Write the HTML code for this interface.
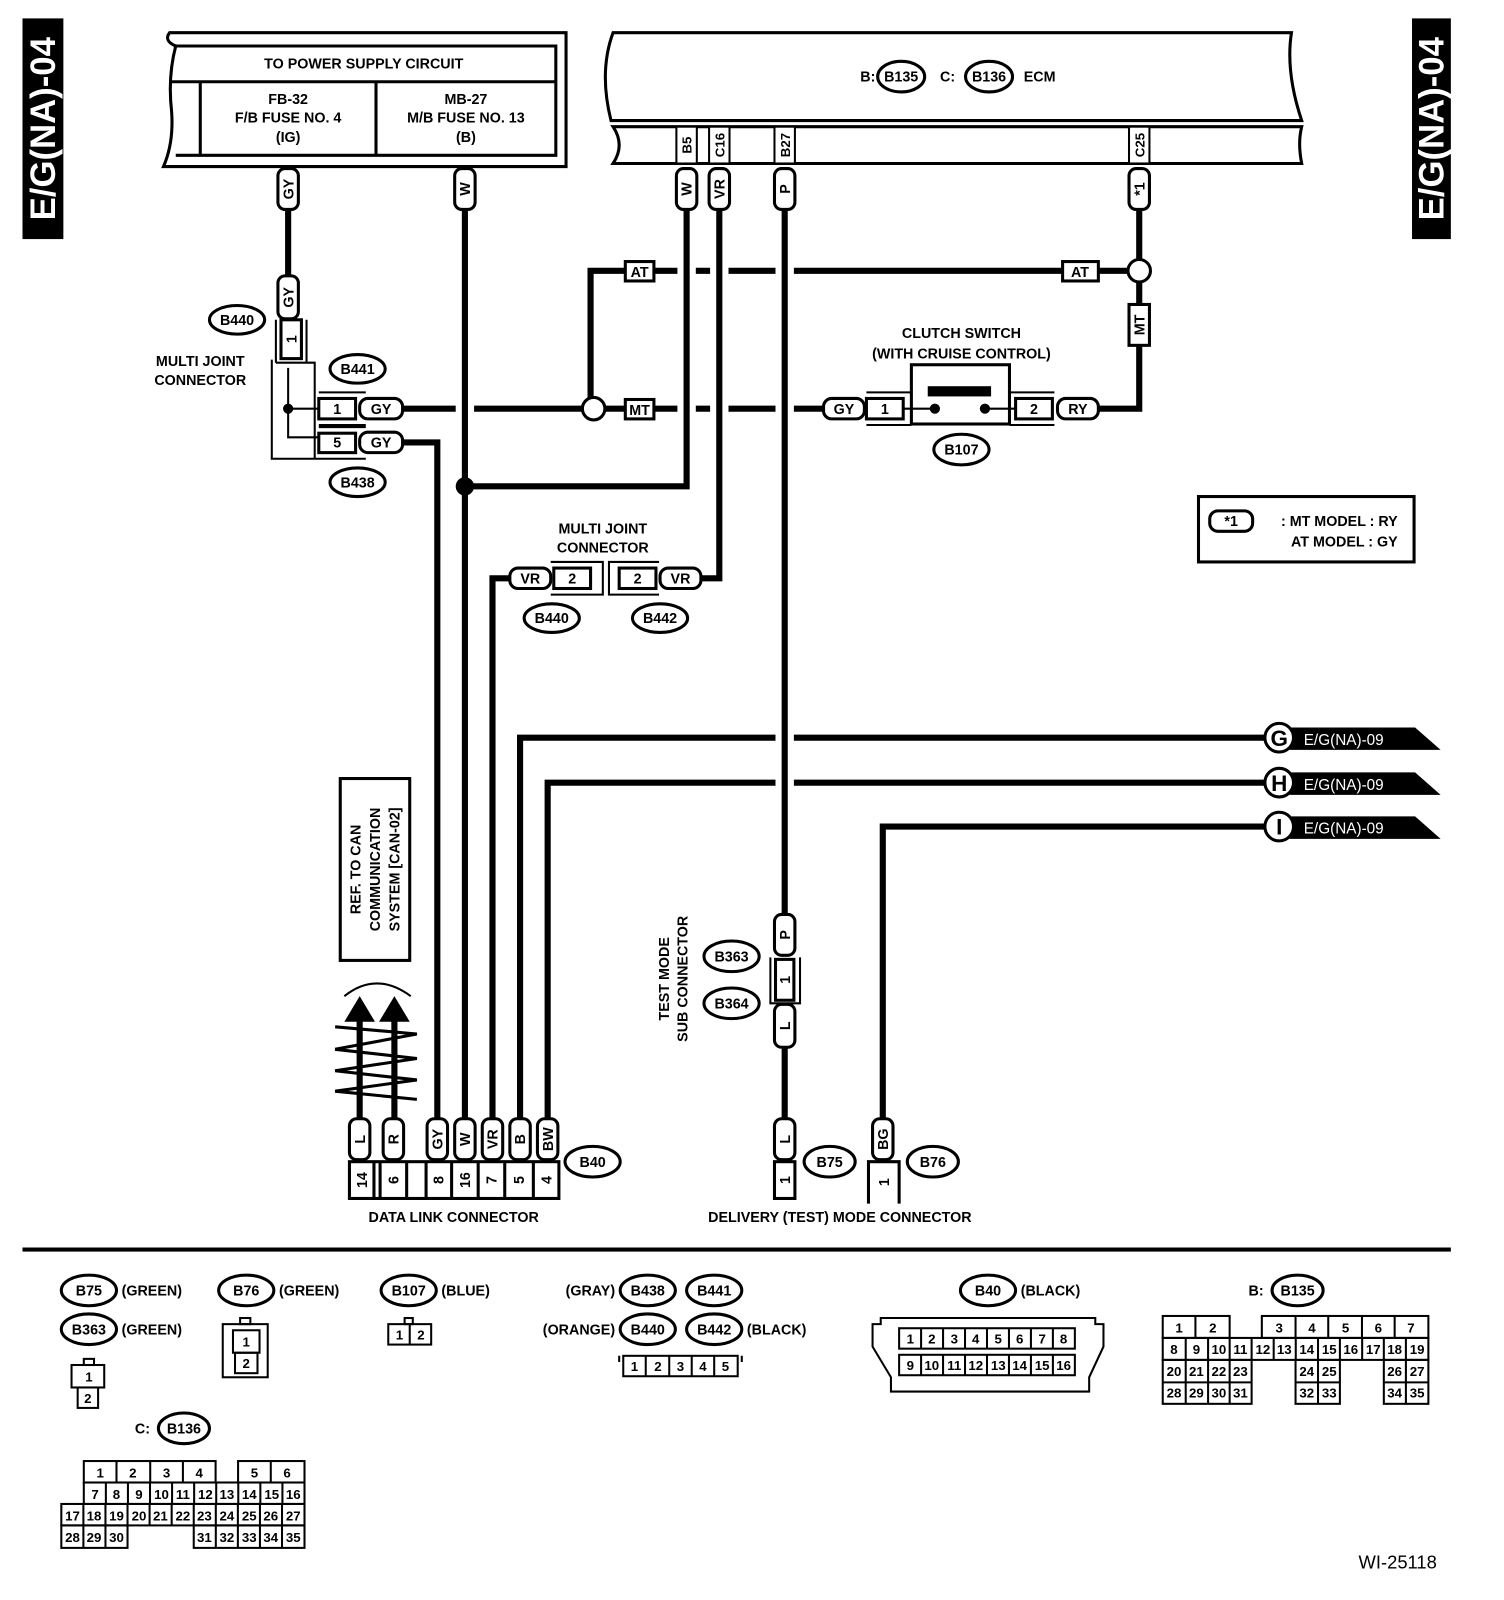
<!DOCTYPE html>
<html><head><meta charset="utf-8"><style>
html,body{margin:0;padding:0;background:#fff;}
svg{display:block;}
text{font-family:"Liberation Sans",Arial,sans-serif;font-weight:bold;fill:#000;}
</style></head><body>
<svg width="1504" height="1600" viewBox="0 0 1472 1566" xmlns="http://www.w3.org/2000/svg">
<rect width="1472" height="1566" fill="#fff"/>
<rect x="22" y="18" width="40" height="216" fill="#000"/>
<text transform="translate(54,126) rotate(-90)" text-anchor="middle" font-size="34" style="fill:#fff">E/G(NA)-04</text>
<rect x="1382" y="18" width="38" height="216" fill="#000"/>
<text transform="translate(1413,126) rotate(-90)" text-anchor="middle" font-size="34" style="fill:#fff">E/G(NA)-04</text>

<g fill="none" stroke="#000">
<path d="M166 32 H554 V163 H160 Q170 140 168 110 Q164 75 172 45 Q160 40 166 32 Z" stroke-width="3"/>
<path d="M170 45 H544 V152 H172" stroke-width="3"/>
<line x1="168" y1="80" x2="544" y2="80" stroke-width="3"/>
<line x1="196" y1="80" x2="196" y2="152" stroke-width="3"/>
<line x1="368" y1="80" x2="368" y2="152" stroke-width="3"/>
<path d="M600 32 H1264 Q1258 70 1274 118 H598 Q586 70 600 32 Z" stroke-width="3"/>
<path d="M600 124 H1274 Q1270 140 1274 160 H600 Q612 142 600 124 Z" stroke-width="3"/>
</g>
<text x="356" y="67" text-anchor="middle" font-size="14">TO POWER SUPPLY CIRCUIT</text>
<g font-size="14" text-anchor="middle">
<text x="282" y="102">FB-32</text><text x="282" y="120">F/B FUSE NO. 4</text><text x="282" y="139">(IG)</text>
<text x="456" y="102">MB-27</text><text x="456" y="120">M/B FUSE NO. 13</text><text x="456" y="139">(B)</text>
</g>
<text x="842" y="80" font-size="14">B:</text>
<ellipse cx="882" cy="75" rx="23" ry="15" fill="none" stroke="#000" stroke-width="3"/>
<text x="882" y="80" text-anchor="middle" font-size="14">B135</text>
<text x="920" y="80" font-size="14">C:</text>
<ellipse cx="968" cy="75" rx="23" ry="15" fill="none" stroke="#000" stroke-width="3"/>
<text x="968" y="80" text-anchor="middle" font-size="14">B136</text>
<text x="1002" y="80" font-size="14">ECM</text>
<g fill="#fff" stroke="#000" stroke-width="2">
<rect x="662" y="124" width="20" height="36"/><rect x="694" y="124" width="20" height="36"/>
<rect x="758" y="124" width="20" height="36"/><rect x="1105" y="124" width="20" height="36"/>
</g>
<g font-size="13" text-anchor="middle">
<text transform="translate(677,142) rotate(-90)">B5</text>
<text transform="translate(709,142) rotate(-90)">C16</text>
<text transform="translate(773,142) rotate(-90)">B27</text>
<text transform="translate(1120,142) rotate(-90)">C25</text>
</g>

<g fill="none" stroke="#000" stroke-width="6">
<path d="M282 205 V270"/>
<path d="M455 205 V1095"/>
<path d="M455 476 H672 V205"/>
<path d="M704 205 V566 H686"/>
<path d="M499 566 H482 V1095"/>
<path d="M768 205 V895"/>
<path d="M768 1025 V1095"/>
<path d="M1115 205 V254"/>
<path d="M1115 276 V298"/>
<path d="M1115 338 V400 H1075"/>
<path d="M578 389 V265 H612"/>
<path d="M640 265 H663 M681 265 H695 M713 265 H759 M777 265 H1040"/>
<path d="M1075 265 H1104"/>
<path d="M394 400 H446 M464 400 H570"/>
<path d="M592 400 H612"/>
<path d="M640 400 H663 M681 400 H695 M713 400 H759 M777 400 H806"/>
<path d="M394 433 H428 V1095"/>
<path d="M509 1095 V722 H759 M777 722 H1240"/>
<path d="M536 1095 V766 H759 M777 766 H1240"/>
<path d="M864 1095 V809 H1240"/>
</g>
<circle cx="455" cy="476" r="9" fill="#000"/>
<g fill="#fff" stroke="#000" stroke-width="3">
<circle cx="1115" cy="265" r="11"/>
<circle cx="581" cy="400" r="11"/>
</g>

<g fill="#fff" stroke="#000" stroke-width="3">
<rect x="272" y="165" width="20" height="40" rx="7"/>
<rect x="445" y="165" width="20" height="40" rx="7"/>
<rect x="662" y="165" width="20" height="40" rx="7"/>
<rect x="694" y="165" width="20" height="40" rx="7"/>
<rect x="758" y="165" width="20" height="40" rx="7"/>
<rect x="1105" y="165" width="20" height="40" rx="7"/>
<rect x="272" y="270" width="20" height="42" rx="7"/>
<rect x="758" y="895" width="20" height="40" rx="7"/>
<rect x="758" y="983" width="20" height="42" rx="7"/>
<rect x="758" y="1095" width="20" height="40" rx="7"/>
<rect x="854" y="1095" width="20" height="40" rx="7"/>
<rect x="342" y="1095" width="20" height="40" rx="7"/>
<rect x="375" y="1095" width="20" height="40" rx="7"/>
<rect x="418" y="1095" width="20" height="40" rx="7"/>
<rect x="445" y="1095" width="20" height="40" rx="7"/>
<rect x="472" y="1095" width="20" height="40" rx="7"/>
<rect x="499" y="1095" width="20" height="40" rx="7"/>
<rect x="526" y="1095" width="20" height="40" rx="7"/>
</g>
<g font-size="14" text-anchor="middle">
<text transform="translate(287,185) rotate(-90)">GY</text>
<text transform="translate(460,185) rotate(-90)">W</text>
<text transform="translate(677,185) rotate(-90)">W</text>
<text transform="translate(709,185) rotate(-90)">VR</text>
<text transform="translate(773,185) rotate(-90)">P</text>
<text transform="translate(1120,185) rotate(-90)">*1</text>
<text transform="translate(287,291) rotate(-90)">GY</text>
<text transform="translate(773,915) rotate(-90)">P</text>
<text transform="translate(773,1004) rotate(-90)">L</text>
<text transform="translate(773,1115) rotate(-90)">L</text>
<text transform="translate(869,1115) rotate(-90)">BG</text>
<text transform="translate(357,1115) rotate(-90)">L</text>
<text transform="translate(390,1115) rotate(-90)">R</text>
<text transform="translate(433,1115) rotate(-90)">GY</text>
<text transform="translate(460,1115) rotate(-90)">W</text>
<text transform="translate(487,1115) rotate(-90)">VR</text>
<text transform="translate(514,1115) rotate(-90)">B</text>
<text transform="translate(541,1115) rotate(-90)">BW</text>
</g>

<g fill="#fff" stroke="#000" stroke-width="3">
<rect x="352" y="390" width="42" height="20" rx="8"/>
<rect x="352" y="423" width="42" height="20" rx="8"/>
<rect x="806" y="390" width="40" height="20" rx="8"/>
<rect x="1035" y="390" width="40" height="20" rx="8"/>
<rect x="499" y="556" width="40" height="20" rx="8"/>
<rect x="646" y="556" width="40" height="20" rx="8"/>
</g>
<g font-size="14" text-anchor="middle">
<text x="373" y="405">GY</text><text x="373" y="438">GY</text>
<text x="826" y="405">GY</text><text x="1055" y="405">RY</text>
<text x="519" y="571">VR</text><text x="666" y="571">VR</text>
</g>

<g fill="#fff" stroke="#000" stroke-width="3">
<rect x="612" y="256" width="28" height="19"/>
<rect x="1040" y="256" width="35" height="19"/>
<rect x="612" y="391" width="28" height="19"/>
<rect x="1105" y="298" width="20" height="40"/>
</g>
<g font-size="14" text-anchor="middle">
<text x="626" y="271">AT</text><text x="1057" y="271">AT</text><text x="626" y="406">MT</text>
<text transform="translate(1120,318) rotate(-90)">MT</text>
</g>

<g fill="none" stroke="#000" stroke-width="2">
<rect x="275" y="313" width="20" height="38" stroke-width="3"/>
<path d="M270 313 V355 M300 313 V355"/>
<path d="M266 352 V449 H358"/>
<path d="M270 355 H308 V449"/>
<path d="M282 360 V428 H312"/>
<path d="M282 400 H312"/>
<path d="M312 384 H358 M312 416 H358 M312 418 H358"/>
<rect x="312" y="390" width="36" height="20" stroke-width="3"/>
<rect x="312" y="424" width="36" height="19" stroke-width="3"/>
</g>
<circle cx="282" cy="400" r="5" fill="#000"/>
<text transform="translate(290,332) rotate(-90)" text-anchor="middle" font-size="14">1</text>
<text x="330" y="405" text-anchor="middle" font-size="14">1</text>
<text x="330" y="438" text-anchor="middle" font-size="14">5</text>
<g font-size="14" text-anchor="middle">
<text x="196" y="358">MULTI JOINT</text><text x="196" y="377">CONNECTOR</text>
<text x="941" y="331">CLUTCH SWITCH</text><text x="941" y="351">(WITH CRUISE CONTROL)</text>
<text x="590" y="522">MULTI JOINT</text><text x="590" y="541">CONNECTOR</text>
</g>

<g fill="none" stroke="#000" stroke-width="3">
<rect x="892" y="357" width="96" height="58"/>
<rect x="848" y="390" width="36" height="20"/>
<rect x="994" y="390" width="36" height="20"/>
<path d="M848 384 H892 M848 416 H892 M988 384 H1032 M988 416 H1032" stroke-width="2"/>
<path d="M884 400 H915 M964 400 H994" stroke-width="2"/>
</g>
<rect x="908" y="378" width="62" height="10" fill="#000"/>
<circle cx="915" cy="400" r="5" fill="#000"/><circle cx="964" cy="400" r="5" fill="#000"/>
<text x="866" y="405" text-anchor="middle" font-size="14">1</text>
<text x="1012" y="405" text-anchor="middle" font-size="14">2</text>

<g fill="none" stroke="#000" stroke-width="3">
<rect x="542" y="556" width="36" height="20"/>
<rect x="606" y="556" width="36" height="20"/>
<path d="M539 550 H590 V582 H539 M645 550 H596 V582 H645" stroke-width="2"/>
</g>
<text x="560" y="571" text-anchor="middle" font-size="14">2</text>
<text x="624" y="571" text-anchor="middle" font-size="14">2</text>

<g fill="none" stroke="#000" stroke-width="3">
<ellipse cx="232" cy="313" rx="27" ry="14"/>
<ellipse cx="350" cy="361" rx="27" ry="14"/>
<ellipse cx="350" cy="472" rx="27" ry="14"/>
<ellipse cx="941" cy="440" rx="27" ry="15"/>
<ellipse cx="540" cy="605" rx="27" ry="14"/>
<ellipse cx="646" cy="605" rx="27" ry="14"/>
<ellipse cx="716" cy="936" rx="27" ry="15"/>
<ellipse cx="716" cy="982" rx="27" ry="15"/>
<ellipse cx="580" cy="1137" rx="27" ry="15"/>
<ellipse cx="812" cy="1137" rx="25" ry="15"/>
<ellipse cx="913" cy="1137" rx="25" ry="15"/>
</g>
<g font-size="14" text-anchor="middle">
<text x="232" y="318">B440</text><text x="350" y="366">B441</text><text x="350" y="477">B438</text>
<text x="941" y="445">B107</text><text x="540" y="610">B440</text><text x="646" y="610">B442</text>
<text x="716" y="941">B363</text><text x="716" y="987">B364</text>
<text x="580" y="1142">B40</text><text x="812" y="1142">B75</text><text x="913" y="1142">B76</text>
</g>

<rect x="1173" y="486" width="211" height="64" fill="none" stroke="#000" stroke-width="3"/>
<rect x="1184" y="500" width="42" height="20" rx="8" fill="none" stroke="#000" stroke-width="3"/>
<text x="1205" y="515" text-anchor="middle" font-size="14">*1</text>
<text x="1368" y="515" text-anchor="end" font-size="14">: MT MODEL : RY</text>
<text x="1368" y="535" text-anchor="end" font-size="14">AT MODEL : GY</text>

<g>
<polygon points="1262,712 1385,712 1410,734 1262,734" fill="#000"/>
<polygon points="1262,756 1385,756 1410,778 1262,778" fill="#000"/>
<polygon points="1262,799 1385,799 1410,821 1262,821" fill="#000"/>
<circle cx="1252" cy="722" r="14" fill="#fff" stroke="#000" stroke-width="3"/>
<circle cx="1252" cy="766" r="14" fill="#fff" stroke="#000" stroke-width="3"/>
<circle cx="1252" cy="809" r="14" fill="#fff" stroke="#000" stroke-width="3"/>
<text x="1252" y="730" text-anchor="middle" font-size="22">G</text>
<text x="1252" y="774" text-anchor="middle" font-size="22">H</text>
<text x="1252" y="817" text-anchor="middle" font-size="22">I</text>
<text x="1276" y="729" font-size="15" style="fill:#fff;font-weight:normal">E/G(NA)-09</text>
<text x="1276" y="773" font-size="15" style="fill:#fff;font-weight:normal">E/G(NA)-09</text>
<text x="1276" y="816" font-size="15" style="fill:#fff;font-weight:normal">E/G(NA)-09</text>
</g>

<rect x="333" y="762" width="68" height="178" fill="none" stroke="#000" stroke-width="3"/>
<g font-size="14" text-anchor="middle">
<text transform="translate(353,851) rotate(-90)">REF. TO CAN</text>
<text transform="translate(372,851) rotate(-90)">COMMUNICATION</text>
<text transform="translate(391,851) rotate(-90)">SYSTEM [CAN-02]</text>
</g>
<g fill="none" stroke="#000">
<path d="M337 975 Q368 950 402 975" stroke-width="2"/>
<path d="M352 995 V1095 M386 995 V1095" stroke-width="6"/>
<path d="M328 1005 L408 1012 L328 1027 L408 1036 L328 1048 L408 1057 L328 1068 L408 1076" stroke-width="3"/>
</g>
<polygon points="352,975 337,1000 367,1000" fill="#000"/>
<polygon points="386,975 371,1000 401,1000" fill="#000"/>

<g fill="none" stroke="#000" stroke-width="3">
<rect x="342" y="1137" width="205" height="36"/>
<path d="M366 1137 V1173 M372 1137 V1173 M398 1137 V1173 M417 1137 V1173 M442 1137 V1173 M468 1137 V1173 M494 1137 V1173 M522 1137 V1173"/>
</g>
<g font-size="14" text-anchor="middle">
<text transform="translate(359,1155) rotate(-90)">14</text>
<text transform="translate(390,1155) rotate(-90)">6</text>
<text transform="translate(434,1155) rotate(-90)">8</text>
<text transform="translate(460,1155) rotate(-90)">16</text>
<text transform="translate(486,1155) rotate(-90)">7</text>
<text transform="translate(513,1155) rotate(-90)">5</text>
<text transform="translate(540,1155) rotate(-90)">4</text>
<text x="444" y="1196">DATA LINK CONNECTOR</text>
<text x="822" y="1196">DELIVERY (TEST) MODE CONNECTOR</text>
</g>
<g fill="none" stroke="#000" stroke-width="3">
<rect x="759" y="939" width="18" height="40"/>
<path d="M754 937 V982 H783 V937" stroke-width="2"/>
<rect x="758" y="1137" width="20" height="36"/>
<path d="M850 1178 V1137 H880 V1178"/>
</g>
<text transform="translate(773,959) rotate(-90)" text-anchor="middle" font-size="14">1</text>
<text transform="translate(773,1155) rotate(-90)" text-anchor="middle" font-size="14">1</text>
<text transform="translate(870,1157) rotate(-90)" text-anchor="middle" font-size="14">1</text>
<g font-size="14" text-anchor="middle">
<text transform="translate(655,958) rotate(-90)">TEST MODE</text>
<text transform="translate(673,958) rotate(-90)">SUB CONNECTOR</text>
</g>

<rect x="22" y="1221" width="1398" height="4" fill="#000"/>

<g fill="none" stroke="#000" stroke-width="3">
<ellipse cx="87" cy="1263" rx="27" ry="15"/>
<ellipse cx="87" cy="1301" rx="27" ry="15"/>
<ellipse cx="241" cy="1263" rx="27" ry="15"/>
<ellipse cx="400" cy="1263" rx="27" ry="15"/>
<ellipse cx="634" cy="1263" rx="27" ry="15"/>
<ellipse cx="699" cy="1263" rx="27" ry="15"/>
<ellipse cx="634" cy="1301" rx="27" ry="15"/>
<ellipse cx="699" cy="1301" rx="27" ry="15"/>
<ellipse cx="967" cy="1263" rx="27" ry="15"/>
<ellipse cx="1270" cy="1263" rx="25" ry="15"/>
<ellipse cx="180" cy="1398" rx="25" ry="15"/>
</g>
<g font-size="14">
<text x="87" y="1268" text-anchor="middle">B75</text><text x="119" y="1268">(GREEN)</text>
<text x="87" y="1306" text-anchor="middle">B363</text><text x="119" y="1306">(GREEN)</text>
<text x="241" y="1268" text-anchor="middle">B76</text><text x="273" y="1268">(GREEN)</text>
<text x="400" y="1268" text-anchor="middle">B107</text><text x="432" y="1268">(BLUE)</text>
<text x="602" y="1268" text-anchor="end">(GRAY)</text>
<text x="634" y="1268" text-anchor="middle">B438</text><text x="699" y="1268" text-anchor="middle">B441</text>
<text x="602" y="1306" text-anchor="end">(ORANGE)</text>
<text x="634" y="1306" text-anchor="middle">B440</text><text x="699" y="1306" text-anchor="middle">B442</text>
<text x="731" y="1306">(BLACK)</text>
<text x="967" y="1268" text-anchor="middle">B40</text><text x="999" y="1268">(BLACK)</text>
<text x="1222" y="1268">B:</text><text x="1270" y="1268" text-anchor="middle">B135</text>
<text x="132" y="1403">C:</text><text x="180" y="1403" text-anchor="middle">B136</text>
</g>
<g fill="none" stroke="#000" stroke-width="2">
<rect x="82" y="1330" width="10" height="6"/><rect x="70" y="1336" width="32" height="22"/><rect x="76" y="1358" width="20" height="20"/>
<rect x="235" y="1290" width="10" height="6"/><rect x="218" y="1296" width="44" height="52"/><rect x="228" y="1302" width="26" height="22"/><rect x="230" y="1324" width="22" height="20"/>
<rect x="396" y="1290" width="8" height="6"/><rect x="380" y="1296" width="42" height="20"/><line x1="401" y1="1296" x2="401" y2="1316"/>
<rect x="610" y="1327" width="112" height="20"/>
<path d="M632 1327 V1347 M655 1327 V1347 M677 1327 V1347 M699 1327 V1347 M606 1327 V1333 M726 1327 V1333"/>
<path d="M862 1290 H1072 V1296 H1080 V1318 L1066 1348 V1362 H872 V1348 L854 1318 V1296 H862 Z"/>
<rect x="880" y="1300" width="172" height="20"/><rect x="880" y="1326" width="172" height="20"/>
<path d="M901.5 1300 V1320 M923 1300 V1320 M944.5 1300 V1320 M966 1300 V1320 M987.5 1300 V1320 M1009 1300 V1320 M1030.5 1300 V1320"/>
<path d="M901.5 1326 V1346 M923 1326 V1346 M944.5 1326 V1346 M966 1326 V1346 M987.5 1326 V1346 M1009 1326 V1346 M1030.5 1326 V1346"/>
</g>
<g font-size="13" text-anchor="middle" style="font-weight:normal">
<text x="87" y="1352">1</text><text x="86" y="1373">2</text>
<text x="241" y="1318">1</text><text x="241" y="1339">2</text>
<text x="391" y="1311">1</text><text x="412" y="1311">2</text>
<text x="621" y="1342">1</text><text x="644" y="1342">2</text><text x="666" y="1342">3</text><text x="688" y="1342">4</text><text x="710" y="1342">5</text>
<text x="891" y="1315">1</text><text x="912" y="1315">2</text><text x="934" y="1315">3</text><text x="955" y="1315">4</text><text x="977" y="1315">5</text><text x="998" y="1315">6</text><text x="1020" y="1315">7</text><text x="1041" y="1315">8</text>
<text x="891" y="1341">9</text><text x="912" y="1341">10</text><text x="934" y="1341">11</text><text x="955" y="1341">12</text><text x="977" y="1341">13</text><text x="998" y="1341">14</text><text x="1020" y="1341">15</text><text x="1041" y="1341">16</text>
</g>

<g fill="none" stroke="#000" stroke-width="2">
<rect x="1138" y="1288" width="65.5" height="21.5"/><line x1="1170" y1="1288" x2="1170" y2="1309.5"/>
<rect x="1235" y="1288" width="163" height="21.5"/>
<path d="M1268 1288 V1309.5 M1300 1288 V1309.5 M1333 1288 V1309.5 M1365 1288 V1309.5"/>
<rect x="1138" y="1309.5" width="260" height="21.5"/>
<path d="M1160.5 1309.5 V1331 M1182.4 1309.5 V1331 M1203.5 1309.5 V1331 M1225 1309.5 V1331 M1246.6 1309.5 V1331 M1268.2 1309.5 V1331 M1290 1309.5 V1331 M1311.4 1309.5 V1331 M1333.2 1309.5 V1331 M1354.4 1309.5 V1331 M1376 1309.5 V1331"/>
<rect x="1138" y="1331" width="87" height="43"/><path d="M1138 1353 H1225 M1160.5 1331 V1374 M1182.4 1331 V1374 M1203.5 1331 V1374"/>
<rect x="1268" y="1331" width="43.4" height="43"/><path d="M1268 1353 H1311.4 M1290 1331 V1374"/>
<rect x="1354.4" y="1331" width="43.6" height="43"/><path d="M1354.4 1353 H1398 M1376 1331 V1374"/>
</g>
<g font-size="13" text-anchor="middle" style="font-weight:normal">
<text x="1154" y="1304">1</text><text x="1187" y="1304">2</text><text x="1252" y="1304">3</text><text x="1284" y="1304">4</text><text x="1317" y="1304">5</text><text x="1349" y="1304">6</text><text x="1381" y="1304">7</text>
<text x="1149" y="1325">8</text><text x="1171" y="1325">9</text><text x="1193" y="1325">10</text><text x="1214" y="1325">11</text><text x="1236" y="1325">12</text><text x="1257" y="1325">13</text><text x="1279" y="1325">14</text><text x="1301" y="1325">15</text><text x="1322" y="1325">16</text><text x="1344" y="1325">17</text><text x="1365" y="1325">18</text><text x="1387" y="1325">19</text>
<text x="1149" y="1347">20</text><text x="1171" y="1347">21</text><text x="1193" y="1347">22</text><text x="1214" y="1347">23</text><text x="1279" y="1347">24</text><text x="1301" y="1347">25</text><text x="1365" y="1347">26</text><text x="1387" y="1347">27</text>
<text x="1149" y="1368">28</text><text x="1171" y="1368">29</text><text x="1193" y="1368">30</text><text x="1214" y="1368">31</text><text x="1279" y="1368">32</text><text x="1301" y="1368">33</text><text x="1365" y="1368">34</text><text x="1387" y="1368">35</text>
</g>

<g fill="none" stroke="#000" stroke-width="2">
<rect x="82" y="1430" width="129" height="21"/><path d="M114 1430 V1451 M147 1430 V1451 M179 1430 V1451"/>
<rect x="233" y="1430" width="65" height="21"/><path d="M265 1430 V1451"/>
<rect x="82" y="1451" width="216" height="21"/>
<path d="M103.6 1451 V1472 M125.2 1451 V1472 M146.8 1451 V1472 M168.4 1451 V1472 M190 1451 V1472 M211.6 1451 V1472 M233.2 1451 V1472 M254.8 1451 V1472 M276.4 1451 V1472"/>
<rect x="60" y="1472" width="238" height="21"/>
<path d="M81.6 1472 V1493 M103.2 1472 V1493 M124.8 1472 V1493 M146.4 1472 V1493 M168 1472 V1493 M189.6 1472 V1493 M211.2 1472 V1493 M232.8 1472 V1493 M254.4 1472 V1493 M276 1472 V1493"/>
<rect x="60" y="1493" width="64.8" height="22"/><path d="M81.6 1493 V1515 M103.2 1493 V1515"/>
<rect x="189.6" y="1493" width="108.4" height="22"/><path d="M211.2 1493 V1515 M232.8 1493 V1515 M254.4 1493 V1515 M276 1493 V1515"/>
</g>
<g font-size="13" text-anchor="middle" style="font-weight:normal">
<text x="98" y="1446">1</text><text x="130" y="1446">2</text><text x="163" y="1446">3</text><text x="195" y="1446">4</text><text x="249" y="1446">5</text><text x="281" y="1446">6</text>
<text x="93" y="1467">7</text><text x="114" y="1467">8</text><text x="136" y="1467">9</text><text x="158" y="1467">10</text><text x="179" y="1467">11</text><text x="201" y="1467">12</text><text x="222" y="1467">13</text><text x="244" y="1467">14</text><text x="266" y="1467">15</text><text x="287" y="1467">16</text>
<text x="71" y="1488">17</text><text x="92" y="1488">18</text><text x="114" y="1488">19</text><text x="136" y="1488">20</text><text x="157" y="1488">21</text><text x="179" y="1488">22</text><text x="200" y="1488">23</text><text x="222" y="1488">24</text><text x="244" y="1488">25</text><text x="265" y="1488">26</text><text x="287" y="1488">27</text>
<text x="71" y="1509">28</text><text x="92" y="1509">29</text><text x="114" y="1509">30</text><text x="200" y="1509">31</text><text x="222" y="1509">32</text><text x="244" y="1509">33</text><text x="265" y="1509">34</text><text x="287" y="1509">35</text>
</g>
<text x="1368" y="1535" text-anchor="middle" font-size="18" style="font-weight:normal">WI-25118</text>
</svg>
</body></html>
